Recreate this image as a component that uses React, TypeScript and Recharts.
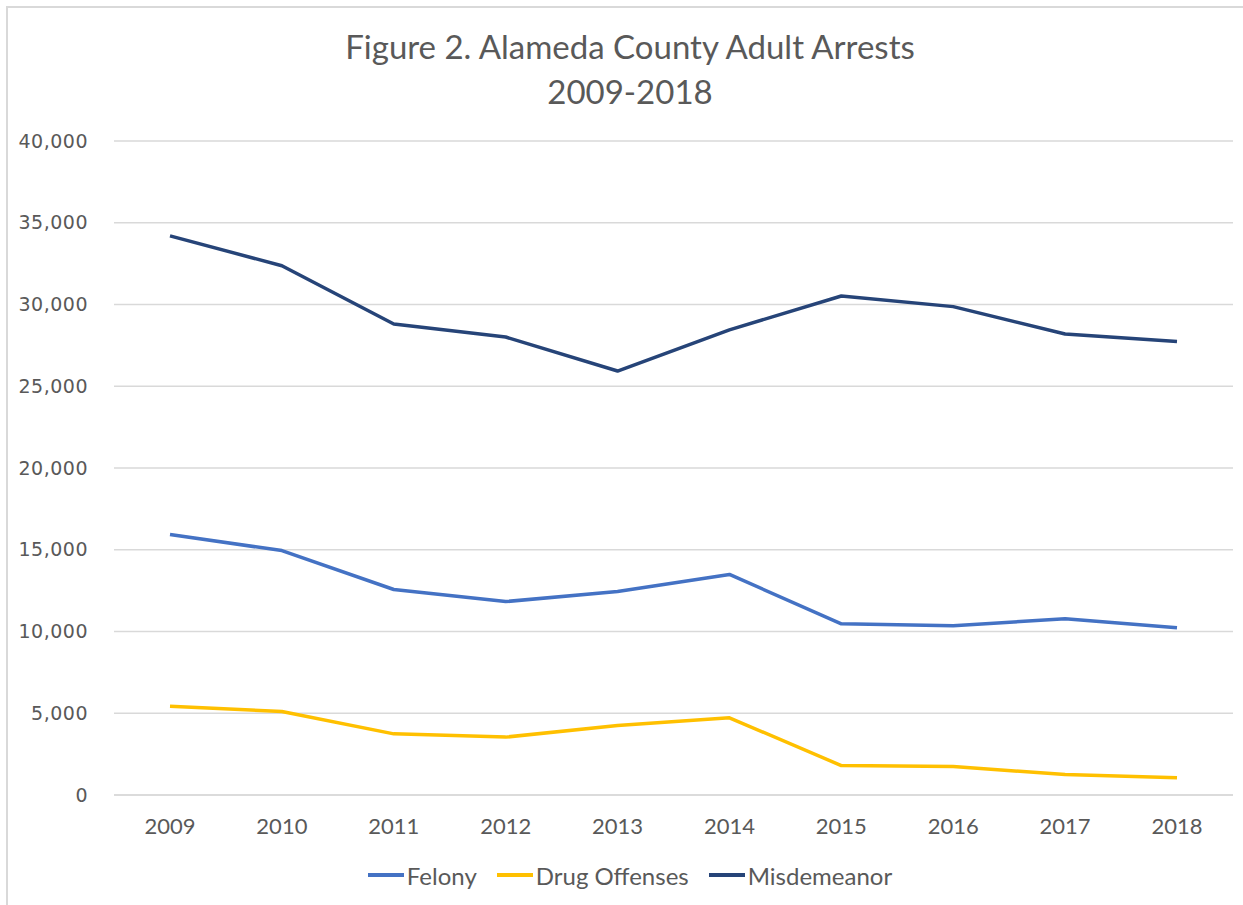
import React from 'react';
import { LineChart, Line, XAxis, YAxis, CartesianGrid, Legend } from 'recharts';

const years = ['2009', '2010', '2011', '2012', '2013', '2014', '2015', '2016', '2017', '2018'];
const felony = [15930, 14950, 12570, 11830, 12450, 13490, 10470, 10350, 10780, 10230];
const drugOffenses = [5430, 5110, 3740, 3540, 4250, 4720, 1800, 1740, 1250, 1050];
const misdemeanor = [34200, 32370, 28810, 28010, 25930, 28450, 30520, 29870, 28200, 27730];
const yTicks = [0, 5000, 10000, 15000, 20000, 25000, 30000, 35000, 40000];
const titleLines = ['Figure 2. Alameda County Adult Arrests', '2009-2018'];
const seriesNames = ['Felony', 'Drug Offenses', 'Misdemeanor'];

const data = years.map((y, i) => ({
  year: y,
  Felony: felony[i],
  'Drug Offenses': drugOffenses[i],
  Misdemeanor: misdemeanor[i],
}));

const TEXT = '#595959';
const GRID = '#d9d9d9';
const LABEL_FONT = 'Lato, "Open Sans", sans-serif';

const renderLegend = (props: any) => {
  const payload = [...(props.payload || [])].sort(
    (a: any, b: any) => seriesNames.indexOf(a.value) - seriesNames.indexOf(b.value)
  );
  return (
    <div style={{ display: 'flex', justifyContent: 'center', alignItems: 'center', height: 40 }}>
      {payload.map((p: any, i: number) => (
        <div key={i} style={{ display: 'flex', alignItems: 'center', marginRight: i < payload.length - 1 ? 20 : 0 }}>
          <div style={{ width: 36, height: 4, background: p.color, marginRight: 3 }} />
          <span style={{ fontFamily: LABEL_FONT, fontSize: 24, color: TEXT }}>{p.value}</span>
        </div>
      ))}
    </div>
  );
};

export default function App() {
  return (
    <div style={{ position: 'absolute', left: 0, top: 0, width: 1243, height: 905, background: '#fff', overflow: 'hidden' }}>
      <div style={{ position: 'absolute', left: 6, top: 6, width: 1300, height: 1000, borderLeft: `2px solid ${GRID}`, borderTop: `2px solid ${GRID}` }} />
      <div style={{ position: 'absolute', left: 0, top: 24, width: 1260, textAlign: 'center', fontFamily: LABEL_FONT, fontSize: 33, color: TEXT, lineHeight: '45px' }}>
        {titleLines.map((t, i) => (
          <div key={i}>{t}</div>
        ))}
      </div>
      <div style={{ position: 'absolute', left: 0, top: 0 }}>
        <LineChart width={1243} height={905} data={data} margin={{ top: 141, right: 10, bottom: 10, left: 0 }}>
          <CartesianGrid vertical={false} stroke={GRID} strokeWidth={1.5} />
          <XAxis
            dataKey="year"
            height={60}
            padding={{ left: 56, right: 56 }}
            tickLine={false}
            tickSize={0}
            tickMargin={23}
            interval={0}
            axisLine={{ stroke: GRID, strokeWidth: 1.5 }}
            tick={{ fill: TEXT, fontSize: 22, fontFamily: LABEL_FONT }}
          />
          <YAxis
            width={114}
            domain={[0, 40000]}
            ticks={yTicks}
            interval={0}
            axisLine={false}
            tickLine={false}
            tickSize={0}
            tickMargin={26}
            tickFormatter={(v: number) => v.toLocaleString('en-US')}
            tick={{ fill: TEXT, fontSize: 19, fontFamily: '"DejaVu Sans", sans-serif', letterSpacing: 0.5 }}
          />
          <Legend verticalAlign="bottom" height={40} content={renderLegend} wrapperStyle={{ left: 0, width: 1260 }} />
          <Line type="linear" dataKey="Felony" stroke="#4472C4" strokeWidth={3.5} dot={false} strokeLinejoin="round" isAnimationActive={false} />
          <Line type="linear" dataKey="Drug Offenses" stroke="#FFC000" strokeWidth={3.5} dot={false} strokeLinejoin="round" isAnimationActive={false} />
          <Line type="linear" dataKey="Misdemeanor" stroke="#264478" strokeWidth={3.5} dot={false} strokeLinejoin="round" isAnimationActive={false} />
        </LineChart>
      </div>
    </div>
  );
}
